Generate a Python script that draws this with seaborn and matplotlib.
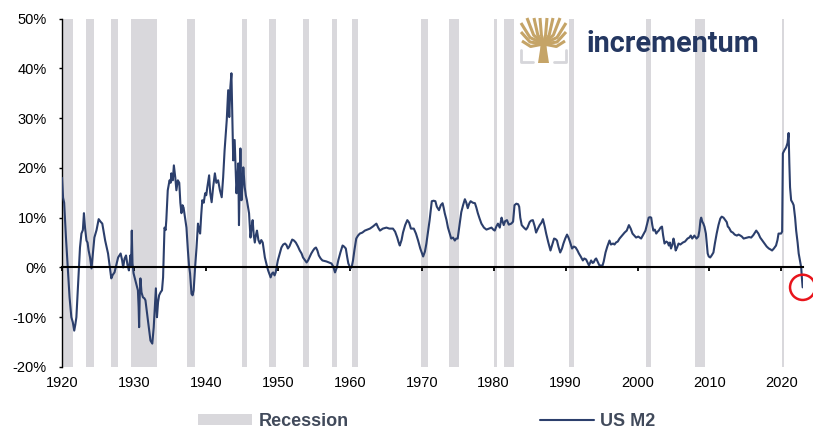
import matplotlib
matplotlib.use("Agg")
import pandas as pd
import matplotlib.pyplot as plt
import seaborn as sns
from matplotlib.patches import Patch, Polygon
from matplotlib.lines import Line2D

# estilo
sns.set_style("white")
plt.rcParams['font.family'] = ['Liberation Sans', 'DejaVu Sans']

# US M2, variación interanual (%)
years = [
    1920.0, 1920.15, 1920.3, 1920.55, 1920.8, 1921.05, 1921.3, 1921.5, 1921.7, 1921.85,
    1922.0, 1922.25, 1922.5, 1922.7, 1922.9, 1923.05, 1923.2, 1923.4, 1923.55, 1923.7,
    1923.9, 1924.1, 1924.3, 1924.5, 1924.8, 1925.1, 1925.35, 1925.6, 1926.0, 1926.4,
    1926.65, 1926.85, 1927.05, 1927.3, 1927.55, 1927.8, 1928.15, 1928.35, 1928.5, 1928.7,
    1928.9, 1929.1, 1929.3, 1929.5, 1929.6, 1929.7, 1929.8, 1929.95, 1930.2, 1930.4,
    1930.55, 1930.65, 1930.72, 1930.8, 1930.9, 1931.05, 1931.25, 1931.45, 1931.6, 1931.8,
    1931.95, 1932.15, 1932.3, 1932.55, 1932.75, 1932.9, 1933.05, 1933.2, 1933.35, 1933.5,
    1933.7, 1933.9, 1934.05, 1934.15, 1934.25, 1934.4, 1934.5, 1934.7, 1934.95, 1935.1,
    1935.2, 1935.4, 1935.55, 1935.75, 1935.9, 1936.1, 1936.3, 1936.45, 1936.6, 1936.75,
    1936.9, 1937.1, 1937.3, 1937.5, 1937.65, 1937.8, 1938.0, 1938.15, 1938.3, 1938.5,
    1938.7, 1938.9, 1939.05, 1939.2, 1939.35, 1939.5, 1939.7, 1939.9, 1940.05, 1940.2,
    1940.45, 1940.6, 1940.8, 1941.0, 1941.25, 1941.45, 1941.7, 1941.95, 1942.2, 1942.4,
    1942.6, 1942.75, 1942.9, 1943.1, 1943.25, 1943.4, 1943.55, 1943.7, 1943.8, 1944.0,
    1944.15, 1944.25, 1944.4, 1944.5, 1944.6, 1944.7, 1944.8, 1944.95, 1945.1, 1945.2,
    1945.4, 1945.55, 1945.7, 1946.0, 1946.2, 1946.35, 1946.5, 1946.65, 1946.8, 1946.95,
    1947.1, 1947.3, 1947.5, 1947.7, 1947.9, 1948.2, 1948.45, 1948.65, 1949.0, 1949.2,
    1949.35, 1949.55, 1949.7, 1950.0, 1950.3, 1950.5, 1950.75, 1951.0, 1951.2, 1951.4,
    1951.6, 1952.0, 1952.25, 1952.5, 1952.8, 1953.05, 1953.3, 1953.5, 1953.75, 1954.0,
    1954.2, 1954.4, 1954.65, 1954.9, 1955.1, 1955.3, 1955.5, 1955.7, 1955.95, 1956.2,
    1956.5, 1956.75, 1957.1, 1957.45, 1957.7, 1957.95, 1958.2, 1958.4, 1958.7, 1959.0,
    1959.2, 1959.45, 1959.65, 1959.8, 1960.1, 1960.3, 1960.45, 1960.65, 1960.9, 1961.15,
    1961.4, 1961.75, 1962.1, 1962.45, 1962.8, 1963.2, 1963.7, 1963.95, 1964.2, 1964.6,
    1965.1, 1965.5, 1966.0, 1966.3, 1966.6, 1966.8, 1966.95, 1967.2, 1967.4, 1967.7,
    1968.0, 1968.25, 1968.5, 1968.9, 1969.2, 1969.5, 1969.8, 1970.0, 1970.2, 1970.45,
    1970.65, 1970.9, 1971.1, 1971.25, 1971.4, 1971.65, 1971.9, 1972.1, 1972.4, 1972.65,
    1972.9, 1973.05, 1973.2, 1973.45, 1973.65, 1973.9, 1974.1, 1974.35, 1974.6, 1974.8,
    1975.0, 1975.25, 1975.5, 1975.75, 1976.0, 1976.2, 1976.4, 1976.6, 1976.8, 1977.1,
    1977.4, 1977.6, 1977.8, 1978.05, 1978.3, 1978.65, 1979.0, 1979.35, 1979.7, 1979.95,
    1980.15, 1980.4, 1980.6, 1980.85, 1981.1, 1981.25, 1981.4, 1981.6, 1981.85, 1982.1,
    1982.45, 1982.7, 1982.9, 1983.15, 1983.4, 1983.55, 1983.7, 1983.9, 1984.2, 1984.5,
    1984.7, 1985.0, 1985.2, 1985.45, 1985.7, 1985.9, 1986.15, 1986.4, 1986.65, 1986.85,
    1987.1, 1987.3, 1987.6, 1987.9, 1988.15, 1988.4, 1988.6, 1988.8, 1989.0, 1989.25,
    1989.5, 1989.7, 1989.95, 1990.2, 1990.4, 1990.55, 1990.75, 1990.9, 1991.15, 1991.4,
    1991.65, 1991.85, 1992.1, 1992.4, 1992.6, 1992.85, 1993.05, 1993.25, 1993.55, 1993.75,
    1993.9, 1994.1, 1994.25, 1994.5, 1994.7, 1994.9, 1995.1, 1995.3, 1995.55, 1995.8,
    1996.1, 1996.3, 1996.6, 1996.8, 1997.0, 1997.25, 1997.5, 1997.85, 1998.2, 1998.5,
    1998.8, 1999.05, 1999.3, 1999.55, 1999.8, 2000.1, 2000.3, 2000.5, 2000.8, 2001.1,
    2001.35, 2001.55, 2001.75, 2001.9, 2002.05, 2002.2, 2002.4, 2002.6, 2002.8, 2002.95,
    2003.2, 2003.4, 2003.55, 2003.75, 2004.0, 2004.2, 2004.35, 2004.5, 2004.65, 2004.85,
    2005.0, 2005.15, 2005.3, 2005.5, 2005.7, 2005.95, 2006.3, 2006.6, 2006.95, 2007.2,
    2007.4, 2007.6, 2007.9, 2008.2, 2008.45, 2008.6, 2008.75, 2008.85, 2009.0, 2009.15,
    2009.3, 2009.5, 2009.65, 2009.75, 2009.9, 2010.1, 2010.3, 2010.55, 2010.75, 2011.0,
    2011.25, 2011.5, 2011.7, 2011.95, 2012.2, 2012.4, 2012.55, 2012.7, 2013.0, 2013.25,
    2013.5, 2013.8, 2014.05, 2014.3, 2014.5, 2014.75, 2015.0, 2015.2, 2015.5, 2015.8,
    2016.1, 2016.5, 2016.8, 2017.05, 2017.35, 2017.65, 2017.95, 2018.25, 2018.5, 2018.7,
    2018.95, 2019.25, 2019.45, 2019.6, 2019.95, 2020.1, 2020.2, 2020.4, 2020.65, 2020.85,
    2021.0, 2021.1, 2021.2, 2021.35, 2021.55, 2021.7, 2021.9, 2022.05, 2022.25, 2022.4,
    2022.6, 2022.75, 2022.85, 2022.95,
]
m2_yoy = [
    18, 14, 13, 6, 0, -6, -10, -11, -12.7, -11.5,
    -10, -3, 4, 6.8, 7.5, 10.9, 8, 5.4, 5, 3.4,
    2, -0.2, 3, 6, 7.5, 9.7, 9.2, 8.8, 5.4, 2.8,
    0, -2.2, -1.5, -1, 0.5, 2, 2.8, 1.5, 0, 1.8,
    2.4, 0.5, -0.6, 2.4, 0.5, 7.4, 0.8, -1.2, -2.6, -3.8,
    -4.6, -8, -12, -6, -2.2, -5, -6, -6.2, -6.6, -9,
    -10.7, -13, -14.7, -15.3, -12, -8, -4.2, -10, -7, -5.6,
    -5, -4.6, -2, 3, 8, 7.5, 9.5, 15.5, 17.5, 17,
    18.9, 17.5, 20.5, 18, 15.5, 17.5, 17, 13, 10.9, 12.5,
    12, 10, 8, 3.4, 0.5, -1.2, -5.3, -5.6, -4.6, 0,
    4, 8.8, 7.5, 6.8, 10.5, 13.5, 13, 14.9, 14.5, 16.1,
    18.5, 15, 13.1, 16, 18.9, 17, 17.5, 15.5, 14.1, 18.1,
    23.5, 26.5, 29.6, 35.6, 30.2, 36.2, 39, 28, 21.5, 25.6,
    19, 14.9, 18, 20.9, 8.5, 17, 23.9, 13.5, 17, 20.1,
    16.1, 14.5, 13.5, 10.9, 6, 8, 9.5, 6.5, 5, 6.5,
    7.4, 5.5, 4.8, 5.5, 5, 2, 0.5, -0.6, -2, -1.2,
    -1, -1.6, -1, 1.4, 3, 4, 4.6, 4.8, 4.5, 3.8,
    4.2, 5.6, 5.4, 5, 4.2, 3.4, 2.8, 2, 1.5, 1,
    1.4, 2, 2.8, 3.4, 3.8, 4, 3.4, 2.4, 1.8, 1.4,
    1.3, 1.2, 1, 0.8, 0.2, -1, 0, 1.4, 3, 4.4,
    4.2, 3.8, 2, 0.8, -0.2, 0.3, 1.4, 3.5, 5.8, 6.4,
    6.8, 7, 7.4, 7.6, 7.8, 8.2, 8.8, 8, 7.4, 7.8,
    8, 7.8, 7.8, 7.2, 6, 5, 4.4, 5.5, 7, 8.5,
    9.5, 9, 7.8, 7.8, 6.8, 5.4, 3.8, 3, 2.2, 3.2,
    4.8, 7.5, 9.5, 11.5, 13.3, 13.4, 13.3, 12.2, 11.5, 12.5,
    12.9, 12, 10.9, 9.5, 8, 6.8, 5.8, 6, 5.4, 5.8,
    5.8, 8.5, 11.1, 12.5, 13.7, 13, 11.9, 12.8, 13.3, 13,
    12.9, 12, 10.9, 9.8, 8.8, 8, 7.6, 7.8, 8, 7.6,
    7.4, 8.3, 8.8, 8, 10, 9.2, 8.5, 9.3, 9.5, 8.6,
    8.8, 9.2, 12.5, 12.8, 12.7, 12.2, 10, 8.5, 8, 7.6,
    8, 9.1, 9.4, 9.5, 8.3, 7, 7.8, 8.5, 9, 9.7,
    8.2, 6.8, 5, 3.4, 4.6, 5.8, 5.7, 5.4, 4.2, 3,
    3.8, 4.8, 5.8, 6.6, 6, 5.4, 4.5, 3.8, 4.2, 4,
    3.4, 2.8, 2.2, 1.4, 1.8, 1.6, 1, 0.4, 1.4, 0.9,
    1, 1.6, 1.8, 1, 0.4, 0.4, 0.2, 1.2, 3, 4.2,
    5.4, 4.6, 4.8, 4.6, 5, 5.2, 5.8, 6.4, 7, 7.4,
    8.5, 7.8, 6.8, 6.4, 6, 6.2, 6, 5.8, 6.6, 7.4,
    8.8, 10, 10.1, 10, 8.5, 7.4, 7.6, 6.8, 7.2, 7.4,
    8, 8.2, 6.5, 4.8, 5.2, 5, 4.4, 5, 3.8, 4.6,
    5.8, 4.8, 3.4, 4, 4.8, 4.6, 5, 5.2, 5.8, 6,
    6.4, 5.8, 6.4, 5.8, 6.2, 7.4, 9.5, 10, 9.2, 8.8,
    8.2, 6.8, 4.5, 2.8, 2.2, 2, 2.4, 3, 4.8, 6.8,
    8.5, 9.8, 10.2, 10, 9.5, 9.1, 8.2, 8, 7.2, 7,
    6.6, 6.4, 6.6, 6.4, 6.2, 5.8, 5.9, 6, 6.1, 6,
    6.5, 7.4, 6.8, 6, 5.4, 4.8, 4.2, 3.8, 3.6, 3.4,
    3.8, 4.4, 5.5, 6.8, 6.8, 7.2, 22.9, 23.5, 24.1, 25,
    27, 21, 16.1, 13.5, 13, 12.5, 10, 7.4, 5, 2.8,
    1.2, 0, -2.2, -4,
]

# recesiones (NBER), en años decimales
rec_start = [1920.0, 1923.33, 1926.75, 1929.58, 1937.33, 1945.08, 1948.83, 1953.5, 1957.58,
             1960.25, 1969.92, 1973.83, 1980.0, 1981.5, 1990.5, 2001.17, 2007.92, 2020.08]
rec_end = [1921.5, 1924.5, 1927.83, 1933.17, 1938.42, 1945.75, 1949.75, 1954.33, 1958.25,
           1961.08, 1970.83, 1975.17, 1980.5, 1982.83, 1991.17, 2001.83, 2009.42, 2020.3]

decade_ticks = list(range(1920, 2021, 10))
pct_ticks = list(range(-20, 51, 10))

line_color = '#2c3f6c'
rec_color = '#d9d8dc'
legend_color = '#414a5b'

df = pd.DataFrame({"Year": years, "US M2": m2_yoy})

fig = plt.figure(figsize=(8.13, 4.29), dpi=100)
W, H = 813, 429
ax = fig.add_axes([62 / W, 1 - 367 / H, (803 - 62) / W, (367 - 18.5) / H])

for s, e in zip(rec_start, rec_end):
    ax.axvspan(s, e, color=rec_color, lw=0, zorder=0)

sns.lineplot(data=df, x="Year", y="US M2", ax=ax, color=line_color, lw=1.5, zorder=3)

# círculo rojo en el último dato
ax.scatter([years[-1]], [m2_yoy[-1]], s=330, facecolors='none', edgecolors='#e8141b',
           linewidths=1.8, zorder=5, clip_on=False)

ax.set_xlim(1920, 2023)
ax.set_ylim(-20, 50)
ax.set_xticks(decade_ticks)
ax.set_yticks(pct_ticks)
ax.set_yticklabels([f"{v}%" for v in pct_ticks])
ax.set_xlabel("")
ax.set_ylabel("")

for side in ['top', 'right']:
    ax.spines[side].set_visible(False)
ax.spines['bottom'].set_position(('data', 0))
ax.spines['bottom'].set_linewidth(1.5)
ax.spines['bottom'].set_color('black')
ax.spines['bottom'].set_zorder(4)
ax.spines['left'].set_linewidth(1.0)
ax.spines['left'].set_color('black')

ax.tick_params(axis='x', bottom=True, direction='out', length=3, width=1.3,
               pad=75, labelsize=10.5, colors='black')
ax.tick_params(axis='y', left=True, direction='out', length=2, width=1.0,
               pad=9, labelsize=10.5, colors='black')

# leyenda
handles = [Patch(facecolor=rec_color, edgecolor='none'),
           Line2D([], [], color=line_color, lw=1.5)]
fig.legend(handles=handles, labels=['Recession', 'US M2'], ncol=2,
           loc='center left', bbox_to_anchor=(198 / W, 1 - 421 / H),
           frameon=False, borderpad=0, borderaxespad=0,
           handlelength=3.0, handleheight=0.55, handletextpad=0.35,
           columnspacing=10.6, prop={'weight': 'bold', 'size': 13},
           labelcolor=legend_color)

# logo incrementum
def fx(x):
    return x / W


def fy(y):
    return 1 - y / H


fig.text(fx(586), fy(52), "incrementum", family=['Roboto', 'DejaVu Sans'],
         weight='bold', size=20.8, color='#243761', ha='left', va='baseline')

gold = '#c5a467'
gray = '#d6d6da'
for xs, ys in [([521, 521, 533], [50, 62, 62]), ([566, 566, 554], [50, 62, 62])]:
    fig.add_artist(Line2D([fx(v) for v in xs], [fy(v) for v in ys], color=gray,
                          lw=2, transform=fig.transFigure))
trunk = Polygon([(fx(538), fy(63)), (fx(549), fy(63)), (fx(547), fy(50)),
                 (fx(546), fy(40)), (fx(541), fy(40)), (fx(540), fy(50))],
                closed=True, facecolor=gold, edgecolor='none', transform=fig.transFigure)
fig.add_artist(trunk)
tips = [(521, 23), (521, 32), (522, 41), (527, 18), (534, 18), (540, 18), (547, 18),
        (553, 18), (560, 18), (566, 23), (566, 32), (565, 41)]
for tx, ty in tips:
    fig.add_artist(Line2D([fx(543.5), fx((543.5 + tx) / 2 + (tx - 543.5) * 0.1), fx(tx)],
                          [fy(44), fy((44 + ty) / 2 + 4), fy(ty)],
                          color=gold, lw=2.2, solid_capstyle='butt',
                          transform=fig.transFigure))

fig.savefig("out.png", dpi=100)
